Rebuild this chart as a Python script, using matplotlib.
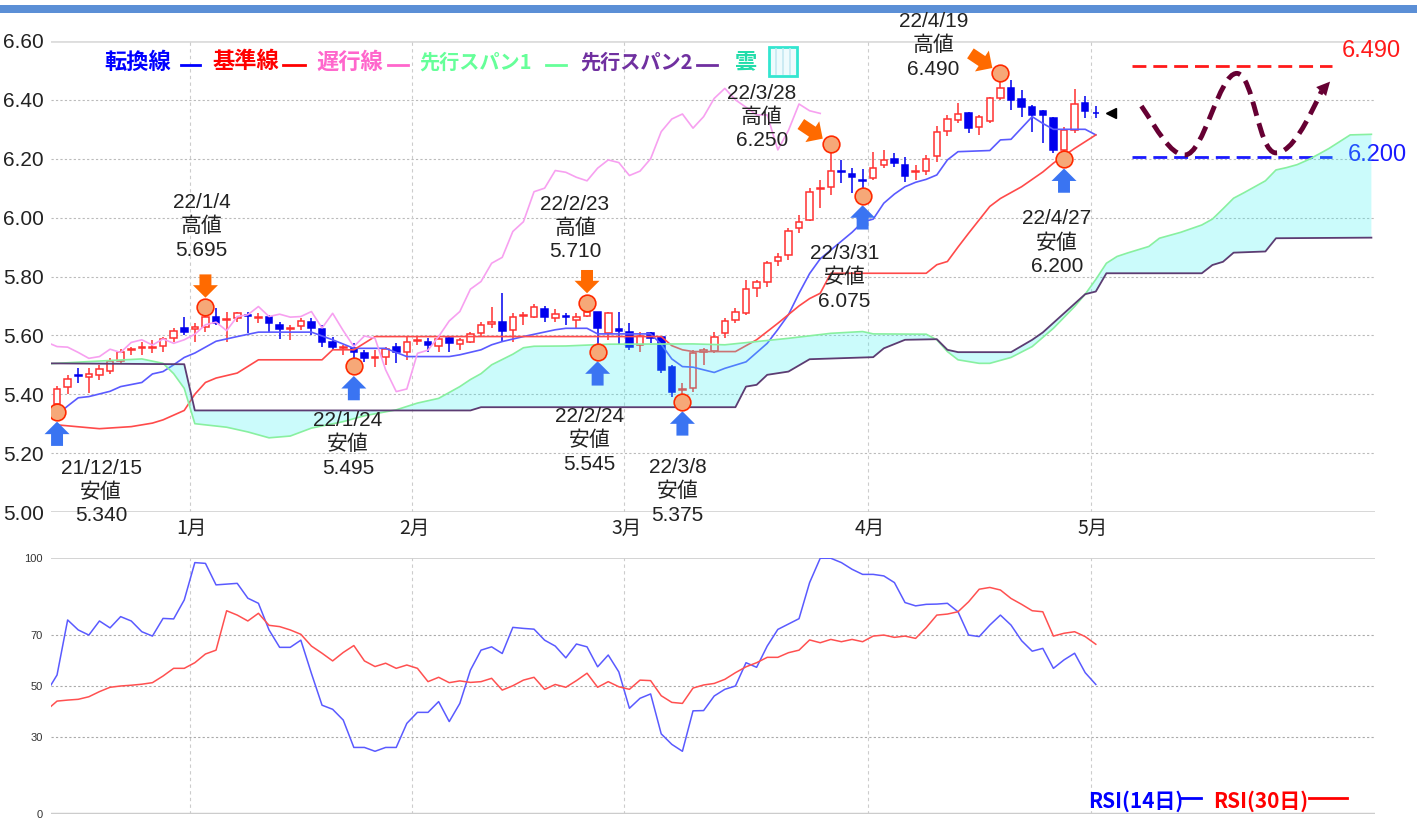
import numpy as np
import matplotlib.pyplot as plt
from matplotlib.path import Path
from matplotlib.patches import PathPatch, Rectangle
from matplotlib.lines import Line2D

W, H = 1417, 819
JP = 'Noto Sans CJK JP'
NUM = ['Liberation Sans', 'Noto Sans CJK JP']
NARROW = ['Liberation Sans Narrow', 'Liberation Sans']

# 日足 index 0 = 2021/12/15
opens = [5.366, 5.426, 5.464, 5.460, 5.466, 5.480, 5.513, 5.550, 5.556, 5.556,
         5.564, 5.590, 5.624, 5.621, 5.630, 5.664, 5.652, 5.658, 5.670, 5.660,
         5.661, 5.636, 5.620, 5.633, 5.644, 5.622, 5.579, 5.557, 5.556, 5.539,
         5.524, 5.526, 5.559, 5.542, 5.581, 5.579, 5.565, 5.590, 5.571, 5.579,
         5.607, 5.639, 5.645, 5.619, 5.667, 5.664, 5.689, 5.658, 5.667, 5.653,
         5.667, 5.681, 5.607, 5.621, 5.613, 5.568, 5.607, 5.596, 5.494, 5.415,
         5.421, 5.545, 5.547, 5.607, 5.653, 5.675, 5.760, 5.783, 5.851, 5.873,
         5.964, 5.992, 6.097, 6.103, 6.157, 6.148, 6.128, 6.134, 6.179, 6.200,
         6.180, 6.155, 6.160, 6.210, 6.295, 6.333, 6.355, 6.309, 6.329, 6.405,
         6.439, 6.402, 6.377, 6.362, 6.337, 6.230, 6.298, 6.390, 6.357]
highs = [5.429, 5.466, 5.488, 5.488, 5.500, 5.522, 5.553, 5.562, 5.579, 5.584,
         5.596, 5.624, 5.664, 5.641, 5.695, 5.692, 5.681, 5.681, 5.681, 5.675,
         5.670, 5.647, 5.636, 5.658, 5.658, 5.636, 5.596, 5.568, 5.573, 5.551,
         5.551, 5.562, 5.573, 5.596, 5.596, 5.590, 5.596, 5.596, 5.590, 5.610,
         5.644, 5.698, 5.743, 5.675, 5.681, 5.707, 5.700, 5.689, 5.675, 5.675,
         5.710, 5.681, 5.681, 5.681, 5.641, 5.613, 5.613, 5.598, 5.500, 5.437,
         5.551, 5.556, 5.613, 5.660, 5.692, 5.788, 5.788, 5.851, 5.879, 5.964,
         6.009, 6.100, 6.128, 6.250, 6.196, 6.168, 6.164, 6.224, 6.230, 6.219,
         6.205, 6.179, 6.213, 6.310, 6.350, 6.388, 6.360, 6.349, 6.411, 6.490,
         6.468, 6.434, 6.383, 6.366, 6.343, 6.309, 6.436, 6.413, 6.379]
lows = [5.340, 5.400, 5.437, 5.404, 5.449, 5.468, 5.506, 5.534, 5.534, 5.540,
        5.545, 5.579, 5.602, 5.579, 5.613, 5.636, 5.579, 5.647, 5.607, 5.641,
        5.613, 5.587, 5.585, 5.619, 5.602, 5.562, 5.551, 5.534, 5.495, 5.511,
        5.494, 5.500, 5.506, 5.517, 5.568, 5.542, 5.545, 5.545, 5.551, 5.573,
        5.596, 5.624, 5.579, 5.579, 5.636, 5.658, 5.644, 5.647, 5.636, 5.624,
        5.664, 5.545, 5.585, 5.568, 5.551, 5.545, 5.573, 5.472, 5.392, 5.375,
        5.409, 5.500, 5.539, 5.592, 5.641, 5.670, 5.732, 5.766, 5.834, 5.856,
        5.947, 5.987, 6.032, 6.077, 6.117, 6.085, 6.075, 6.128, 6.168, 6.173,
        6.122, 6.128, 6.145, 6.188, 6.276, 6.322, 6.286, 6.281, 6.320, 6.400,
        6.364, 6.343, 6.292, 6.252, 6.219, 6.200, 6.286, 6.338, 6.337]
closes = [5.417, 5.451, 5.462, 5.468, 5.485, 5.513, 5.545, 5.553, 5.559, 5.559,
          5.587, 5.615, 5.610, 5.630, 5.662, 5.641, 5.656, 5.675, 5.667, 5.663,
          5.641, 5.622, 5.625, 5.649, 5.624, 5.577, 5.562, 5.560, 5.542, 5.522,
          5.528, 5.553, 5.542, 5.576, 5.585, 5.567, 5.588, 5.573, 5.585, 5.604,
          5.636, 5.645, 5.616, 5.664, 5.670, 5.698, 5.664, 5.672, 5.662, 5.664,
          5.681, 5.625, 5.675, 5.616, 5.562, 5.598, 5.590, 5.483, 5.409, 5.418,
          5.539, 5.550, 5.596, 5.649, 5.681, 5.757, 5.783, 5.845, 5.865, 5.953,
          5.986, 6.088, 6.100, 6.160, 6.154, 6.137, 6.125, 6.168, 6.196, 6.187,
          6.143, 6.158, 6.200, 6.292, 6.335, 6.352, 6.304, 6.343, 6.405, 6.439,
          6.400, 6.375, 6.349, 6.349, 6.230, 6.296, 6.386, 6.363, 6.354]

# 一目均衡表 (index, 値)
tenkan_x = [0, 1, 2, 3, 5, 6, 8, 9, 10, 11, 12, 13, 15, 17, 19, 24, 26, 28, 31, 33,
            37, 38, 40, 41, 42, 44, 47, 48, 50, 51, 56, 57, 58, 59, 60, 62, 63, 65,
            67, 68, 69, 70, 71, 72, 74, 75, 76, 77, 78, 79, 80, 81, 82, 83, 84, 85,
            88, 89, 90, 92, 93, 94, 97, 98]
tenkan_y = [5.330, 5.360, 5.388, 5.392, 5.410, 5.426, 5.440, 5.469, 5.477, 5.500,
            5.525, 5.540, 5.580, 5.596, 5.611, 5.611, 5.585, 5.556, 5.556, 5.528,
            5.528, 5.534, 5.551, 5.568, 5.579, 5.596, 5.619, 5.624, 5.624, 5.605,
            5.605, 5.570, 5.520, 5.494, 5.492, 5.474, 5.488, 5.510, 5.573, 5.620,
            5.670, 5.743, 5.810, 5.860, 5.920, 5.950, 5.985, 5.995, 6.049, 6.080,
            6.105, 6.120, 6.130, 6.145, 6.196, 6.224, 6.228, 6.264, 6.266, 6.343,
            6.320, 6.300, 6.300, 6.281]
kijun_x = [0, 4, 7, 9, 10, 12, 13, 14, 15, 17, 19, 25, 26, 28, 30, 57, 58, 59, 60,
           64, 66, 68, 70, 71, 72, 73, 82, 83, 84, 85, 86, 88, 89, 91, 93, 94, 96, 98]
kijun_y = [5.296, 5.283, 5.290, 5.302, 5.313, 5.345, 5.400, 5.440, 5.455, 5.472,
           5.517, 5.517, 5.551, 5.551, 5.596, 5.596, 5.565, 5.551, 5.545, 5.545,
           5.585, 5.641, 5.700, 5.725, 5.743, 5.811, 5.811, 5.840, 5.851, 5.900,
           5.947, 6.038, 6.065, 6.105, 6.155, 6.185, 6.235, 6.281]
span1_x = [-1, 3, 8, 10, 11, 12, 13, 16, 18, 20, 22, 24, 27, 29, 32, 34, 36, 38, 39,
           40, 41, 43, 44, 45, 48, 52, 60, 63, 69, 73, 76, 77, 82, 83, 84, 85, 87, 88,
           90, 92, 94, 96, 97, 98, 99, 100, 101, 103, 104, 106, 108, 109, 110, 111,
           112, 113, 114, 115, 116, 117, 118, 119, 120, 121, 122, 124]
span1_y = [5.503, 5.511, 5.520, 5.505, 5.470, 5.420, 5.300, 5.288, 5.272, 5.252,
           5.258, 5.285, 5.307, 5.327, 5.347, 5.370, 5.386, 5.426, 5.450, 5.470,
           5.500, 5.536, 5.558, 5.563, 5.564, 5.570, 5.571, 5.568, 5.590, 5.607,
           5.613, 5.605, 5.604, 5.585, 5.545, 5.517, 5.505, 5.505, 5.525, 5.562,
           5.624, 5.698, 5.740, 5.790, 5.845, 5.868, 5.880, 5.902, 5.930, 5.950,
           5.975, 5.995, 6.030, 6.066, 6.085, 6.105, 6.125, 6.162, 6.170, 6.180,
           6.196, 6.215, 6.235, 6.258, 6.281, 6.283]
span2_x = [-1, 12, 13, 39, 40, 64, 65, 66, 67, 69, 71, 77, 78, 80, 83, 84, 85, 90,
           92, 93, 95, 97, 98, 99, 108, 109, 110, 111, 114, 115, 124]
span2_y = [5.505, 5.502, 5.345, 5.345, 5.356, 5.356, 5.426, 5.432, 5.466, 5.477,
           5.519, 5.526, 5.556, 5.585, 5.587, 5.551, 5.543, 5.543, 5.585, 5.610,
           5.675, 5.740, 5.749, 5.811, 5.811, 5.839, 5.850, 5.881, 5.885, 5.930,
           5.932]

# RSI index -1..98
rsi14 = [47.5, 54.3, 75.8, 71.9, 69.9, 75.4, 72.7, 77.1, 75.4, 71.2, 69.5, 76.4,
         76.2, 83.6, 98.2, 97.9, 89.5, 89.8, 90.1, 84.3, 82.3, 71.9, 65.1, 65.1,
         67.9, 54.9, 42.5, 40.9, 36.7, 26.0, 26.0, 24.5, 26.0, 26.0, 35.4, 39.7,
         39.7, 43.9, 36.1, 43.2, 56.2, 64.0, 65.3, 62.7, 72.9, 72.5, 72.2, 67.9,
         65.6, 61.0, 66.4, 65.3, 57.5, 62.1, 55.5, 41.3, 45.2, 46.9, 31.3, 27.2,
         24.5, 40.3, 40.4, 46.1, 48.7, 50.0, 59.1, 57.3, 65.6, 72.1, 74.2, 76.3,
         90.4, 99.9, 99.9, 98.2, 95.6, 93.6, 93.6, 93.0, 90.4, 82.6, 81.3, 81.9,
         82.0, 82.3, 79.0, 69.9, 69.3, 73.8, 77.7, 73.8, 67.7, 63.6, 64.7, 56.9,
         60.2, 62.8, 55.2, 50.6]
rsi30 = [40.5, 44.1, 44.5, 44.8, 45.8, 47.8, 49.5, 50.0, 50.3, 50.7, 51.3, 53.9,
         56.9, 56.9, 59.1, 62.5, 64.0, 79.4, 77.7, 75.4, 78.4, 73.7, 73.2, 71.9,
         70.2, 65.6, 62.8, 59.8, 63.1, 65.8, 59.8, 57.6, 58.9, 56.9, 58.2, 56.9,
         51.7, 53.4, 51.3, 52.0, 51.4, 51.7, 53.0, 48.4, 50.1, 52.3, 53.4, 48.7,
         50.6, 49.5, 52.1, 55.0, 49.5, 51.7, 49.7, 48.7, 52.3, 52.1, 46.2, 43.6,
         43.2, 49.2, 50.4, 51.0, 52.6, 55.2, 57.5, 59.1, 61.2, 61.2, 63.0, 64.0,
         68.0, 66.9, 68.2, 67.3, 68.2, 67.3, 69.5, 69.9, 69.0, 69.5, 68.6, 72.8,
         77.7, 78.1, 79.0, 82.9, 87.8, 88.5, 87.5, 84.2, 81.9, 79.4, 79.0, 69.5,
         70.6, 71.2, 69.3, 66.3]

month_labels = ['1月', '2月', '3月', '4月', '5月']
month_first_idx = [13, 34, 54, 77, 98]

mark_idx = [0, 14, 28, 50, 51, 59, 73, 76, 89, 95]
mark_val = [5.340, 5.695, 5.495, 5.710, 5.545, 5.375, 6.250, 6.075, 6.490, 6.200]
mark_date = ['21/12/15', '22/1/4', '22/1/24', '22/2/23', '22/2/24', '22/3/8',
             '22/3/28', '22/3/31', '22/4/19', '22/4/27']
mark_kind = ['安値', '高値', '安値', '高値', '安値', '安値', '高値', '安値', '高値', '安値']

pattern_high, pattern_low = 6.490, 6.200

# layout (pixel offsets from each circle)
text_off = [(44, -80), (-4, 81), (-6, -78), (-12, 75), (-8, -89), (-5, -90),
            (-69, 27), (-18, -82), (-67, 28), (-7, -84)]
arrow_kind = ['up', 'down', 'up', 'down', 'up', 'up', 'diag', 'up', 'diag', 'up']

fig = plt.figure(figsize=(W / 100, H / 100), dpi=100)


def fx(x):
    return x / W


def fy(y):
    return 1 - y / H


ax = fig.add_axes([fx(51), fy(512), (1375 - 51) / W, (512 - 41) / H])
ax2 = fig.add_axes([fx(51), fy(814), (1375 - 51) / W, (814 - 558) / H])
xlo, xhi = -0.57, 124.34

# top bar (drawn beneath the axes)
fig.add_artist(Rectangle((0, fy(13)), 1, 8 / H, transform=fig.transFigure,
                         color='#5b8fd6', lw=0, zorder=-1))

# candles
x = np.arange(len(closes))
o, h, l, c = map(np.array, (opens, highs, lows, closes))
up = c >= o
red, blue = '#ff3030', '#0000ee'
ax.vlines(x[up], l[up], h[up], color=red, lw=1.1, zorder=2)
ax.vlines(x[~up], l[~up], h[~up], color=blue, lw=1.1, zorder=2)
bb = np.minimum(o, c)
bh = np.maximum(np.abs(c - o), 0.003)
ax.bar(x[up], bh[up], bottom=bb[up], width=0.62, facecolor='white',
       edgecolor=red, lw=1.1, zorder=3)
ax.bar(x[~up], bh[~up], bottom=bb[~up], width=0.62, facecolor=blue,
       edgecolor=blue, lw=1.1, zorder=3)

ax.plot(tenkan_x, tenkan_y, color='#5a5aff', lw=1.2, zorder=4)
ax.plot(kijun_x, kijun_y, color='#ff4a4a', lw=1.2, zorder=4)
ax.plot(x - 26, closes, color='#f7a0f0', lw=1.2, zorder=4)
ax.fill(np.r_[span1_x, span2_x[::-1]], np.r_[span1_y, span2_y[::-1]],
        color='#33f0f0', alpha=0.25, lw=0, zorder=5)
ax.plot(span1_x, span1_y, color='#88f0a0', lw=1.2, zorder=6)
ax.plot(span2_x, span2_y, color='#5c3c72', lw=1.3, zorder=6)

# grid
for v in np.arange(5.2, 6.5, 0.2):
    ax.axhline(v, color='#bbbbbb', lw=0.8, ls=(0, (2, 2)), zorder=0)
ax.axhline(6.6, color='#dddddd', lw=2, zorder=0)
ax.axhline(5.0, color='#cccccc', lw=1.8, zorder=0)
month_grid = [m - 0.5 for m in month_first_idx]
for a in (ax, ax2):
    for g in month_grid:
        a.axvline(g, color='#cccccc', lw=0.8, ls=(0, (3, 3)), zorder=0)
    a.set_xlim(xlo, xhi)
    for s in a.spines.values():
        s.set_visible(False)

ax.set_ylim(5.0, 6.6)
yt = np.arange(5.0, 6.61, 0.2)
ax.set_yticks(yt)
ax.set_yticklabels(['%.2f' % v for v in yt], family=NARROW, fontsize=15, color='#222222')
ax.set_xticks([g + 0.2 for g in month_grid])
ax.set_xticklabels(month_labels, family=JP, fontsize=14, color='#222222')
ax.tick_params(axis='y', length=0, pad=5)
ax.tick_params(axis='x', length=0, pad=4)

# marks
ax.plot(mark_idx, mark_val, 'o', ms=12, mfc='#f6a878', mec='#ff2a00', mew=1.2,
        ls='none', zorder=8)
arrow_sty = 'simple,head_length=0.9,head_width=1.8,tail_width=0.86'
for i, v, kind in zip(mark_idx, mark_val, arrow_kind):
    if kind == 'up':
        off, col = (0, -34), '#3a74f2'
    elif kind == 'down':
        off, col = (0, 33), '#ff6a00'
    else:
        off, col = (-30, 20), '#ff6a00'
    ax.annotate('', xy=(i, v), xytext=off, textcoords='offset pixels',
                arrowprops=dict(arrowstyle=arrow_sty, mutation_scale=10, fc=col,
                                ec='none', shrinkA=0, shrinkB=7), zorder=7)
for i, v, d, k, off in zip(mark_idx, mark_val, mark_date, mark_kind, text_off):
    ax.annotate('%s\n%s\n%.3f' % (d, k, v), xy=(i, v), xytext=off,
                textcoords='offset pixels', ha='center', va='center',
                family=NUM, fontsize=15, color='#222222', linespacing=1.3,
                annotation_clip=False, zorder=9)

# current price marker
ax.plot(99.4, closes[-1], marker='<', color='black', ms=7, zorder=9)

# double bottom sketch
ax.hlines(pattern_high + 0.025, 101.4, 120.3, color='#ff1a1a', lw=2, ls=(0, (5, 2.5)))
ax.hlines(pattern_low + 0.007, 101.4, 120.3, color='#1a1aff', lw=2, ls=(0, (5, 2.5)))
ax.text(124.0, pattern_high + 0.075, '%.3f' % pattern_high, color='#ff1a1a',
        family=NUM, fontsize=17, ha='center', va='center')
ax.text(124.6, pattern_low + 0.012, '%.3f' % pattern_low, color='#1a1aff',
        family=NUM, fontsize=17, ha='center', va='center')
verts = [(102.3, 6.379), (103.8, 6.30), (105.0, 6.213), (106.4, 6.213),
         (108.2, 6.213), (109.6, 6.49), (111.3, 6.49),
         (112.9, 6.49), (113.3, 6.22), (115.0, 6.22),
         (116.5, 6.22), (118.0, 6.33), (119.3, 6.43)]
codes = [Path.MOVETO] + [Path.CURVE4] * 12
ax.add_patch(PathPatch(Path(verts, codes), fill=False, ec='#660033', lw=3.5,
                       ls=(0, (3, 1.6)), zorder=9))
ax.annotate('', xy=(120.1, 6.462), xytext=(119.3, 6.43),
            arrowprops=dict(arrowstyle='-|>', color='#660033', mutation_scale=24,
                            lw=0, shrinkA=0, shrinkB=0), zorder=9)

# RSI
xr = np.arange(-1, len(rsi14) - 1)
ax2.plot(xr, rsi14, color='#5a5aff', lw=1.1, zorder=3)
ax2.plot(xr, rsi30, color='#ff5050', lw=1.1, zorder=3)
ax2.set_ylim(0, 100)
ax2.axhline(100, color='#cccccc', lw=1.2, zorder=0)
ax2.axhline(0, color='#cccccc', lw=2.5, zorder=0)
for v in (30, 50, 70):
    ax2.axhline(v, color='#aaaaaa', lw=0.8, ls=(0, (2, 2)), zorder=0)
ax2.set_yticks([0, 30, 50, 70, 100])
ax2.set_yticklabels(['0', '30', '50', '70', '100'], family=NARROW, fontsize=8,
                    color='#333333')
ax2.set_xticks([])
ax2.tick_params(length=0, pad=6)

# legends
items = [('転換線', '#0000ff', 104, 181, 200, 16), ('基準線', '#ff0000', 212, 283, 305, 16),
         ('遅行線', '#ff66cc', 316, 388, 408, 16),
         ('先行スパン1', '#66ff99', 419, 546, 566, 14.5),
         ('先行スパン2', '#7030a0', 580, 697, 717, 14.5)]
for t, col, tx, l0, l1, fs in items:
    fig.text(fx(tx), fy(62), t, color=col, family=JP, fontsize=fs,
             fontweight='bold', ha='left', va='center')
    fig.add_artist(Line2D([fx(l0), fx(l1)], [fy(65), fy(65)], color=col, lw=2,
                          transform=fig.transFigure))
fig.text(fx(735), fy(62), '雲', color='#22ddaa', family=JP, fontsize=16,
         fontweight='bold', ha='left', va='center')
fig.add_artist(Rectangle((fx(769), fy(76)), 28 / W, 29 / H, transform=fig.transFigure,
                         fc='#eefbfd', ec='#33e6d0', lw=2))
for sx in (776, 783, 790):
    fig.add_artist(Line2D([fx(sx), fx(sx)], [fy(74), fy(49)], color='#c4e8f2',
                          lw=1.2, transform=fig.transFigure))

fig.text(fx(1088), fy(801), 'RSI(14日)', color='#0000ff', family=JP, fontsize=15,
         fontweight='bold', ha='left', va='center')
fig.add_artist(Line2D([fx(1181), fx(1201)], [fy(798), fy(798)], color='#0000ff',
                      lw=2, transform=fig.transFigure))
fig.text(fx(1213), fy(801), 'RSI(30日)', color='#ff0000', family=JP, fontsize=15,
         fontweight='bold', ha='left', va='center')
fig.add_artist(Line2D([fx(1309), fx(1347)], [fy(798), fy(798)], color='#ff0000',
                      lw=2, transform=fig.transFigure))

fig.savefig('out.png', dpi=100)
